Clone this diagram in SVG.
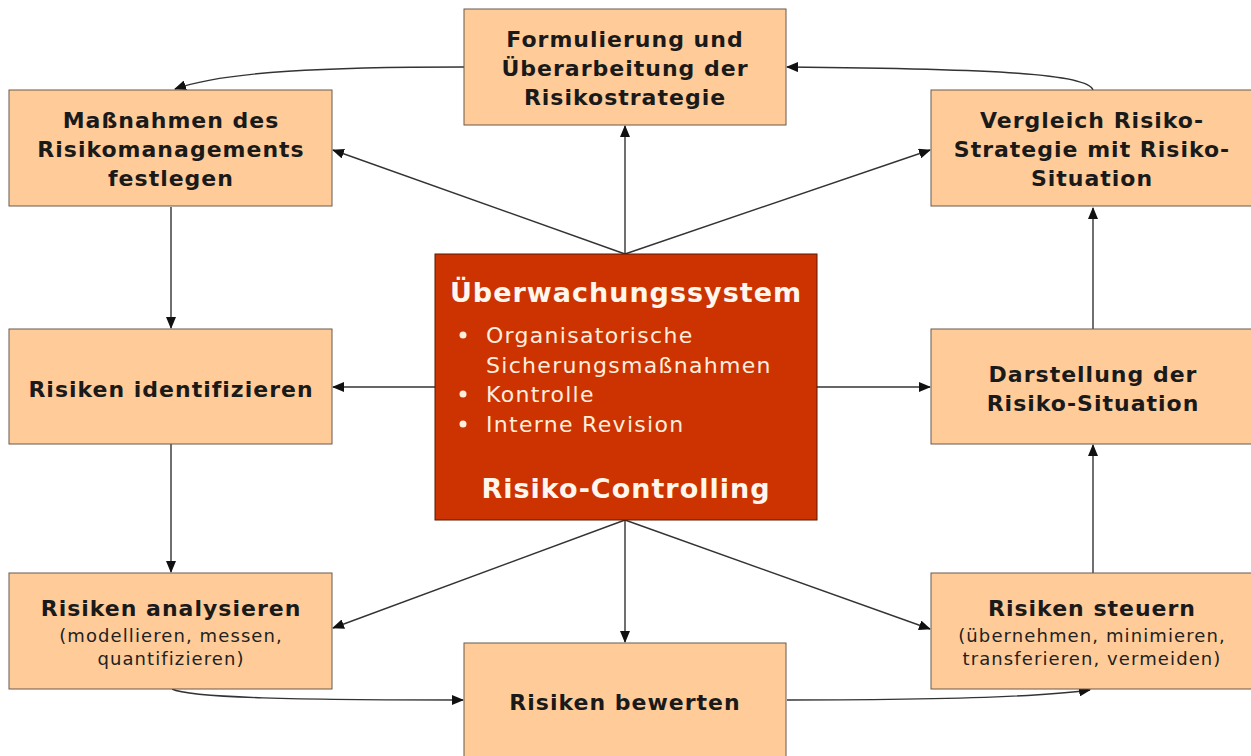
<svg xmlns="http://www.w3.org/2000/svg" width="1251" height="756" viewBox="0 0 1251 756">
  <style>
    .box { fill: #FFCC99; stroke: #6b5a4a; stroke-width: 1; }
    .core { fill: #CC3300; stroke: #5a1800; stroke-width: 1; }
    .t { font-family: "DejaVu Sans", Verdana, sans-serif; font-weight: bold; font-size: 22px; letter-spacing: 1px; fill: #1a1a1a; text-anchor: middle; }
    .s { font-family: "DejaVu Sans", Verdana, sans-serif; font-size: 18px; letter-spacing: 1.1px; fill: #222; text-anchor: middle; }
    .ch { font-family: "DejaVu Sans", Verdana, sans-serif; font-weight: bold; font-size: 27px; letter-spacing: 1px; fill: #FFF6EE; text-anchor: middle; }
    .cl { font-family: "DejaVu Sans", Verdana, sans-serif; font-size: 22px; letter-spacing: 1.3px; fill: #FFEEDD; }
    .edge { fill: none; stroke: #333; stroke-width: 1.4; marker-end: url(#arrow); }
  </style>
  <defs>
    <marker id="arrow" markerUnits="userSpaceOnUse" markerWidth="12" markerHeight="10" refX="11" refY="5" orient="auto">
      <path d="M0,0 L12,5 L0,10 z" fill="#111"/>
    </marker>
  </defs>
  <rect width="1251" height="756" fill="#FFFFFF"/>

  <!-- connectors -->
  <g id="connectors">
    <!-- from the monitoring system outwards -->
    <path class="edge" d="M625,254 L625,126"/>
    <path class="edge" d="M625,254 L333,150"/>
    <path class="edge" d="M625,254 L930,150"/>
    <path class="edge" d="M435,387 L333,387"/>
    <path class="edge" d="M817,387 L930,387"/>
    <path class="edge" d="M625,520 L333,628"/>
    <path class="edge" d="M625,520 L930,629"/>
    <path class="edge" d="M625,520 L625,642"/>
    <!-- process cycle -->
    <path class="edge" d="M171,207 L171,328"/>
    <path class="edge" d="M171,444 L171,572"/>
    <path class="edge" d="M172,689 C190,698 300,700 463,700"/>
    <path class="edge" d="M787,700 C950,700 1040,697 1090,690"/>
    <path class="edge" d="M1093,573 L1093,445"/>
    <path class="edge" d="M1093,329 L1093,208"/>
    <path class="edge" d="M1093,90 C1088,74 1000,69 787,67"/>
    <path class="edge" d="M464,67 C330,67 225,71 175,89"/>
  </g>

  <g id="strategie">
    <rect class="box" x="464" y="9" width="322" height="116"/>
    <text class="t" x="625" y="47">Formulierung und</text>
    <text class="t" x="625" y="76">Überarbeitung der</text>
    <text class="t" x="625" y="105">Risikostrategie</text>
  </g>

  <g id="massnahmen">
    <rect class="box" x="9" y="90" width="323" height="116"/>
    <text class="t" x="171" y="128">Maßnahmen des</text>
    <text class="t" x="171" y="157">Risikomanagements</text>
    <text class="t" x="171" y="186">festlegen</text>
  </g>

  <g id="vergleich">
    <rect class="box" x="931" y="90" width="330" height="116"/>
    <text class="t" x="1092" y="128">Vergleich Risiko-</text>
    <text class="t" x="1092" y="157">Strategie mit Risiko-</text>
    <text class="t" x="1092" y="186">Situation</text>
  </g>

  <g id="identifizieren">
    <rect class="box" x="9" y="329" width="323" height="115"/>
    <text class="t" x="171" y="397">Risiken identifizieren</text>
  </g>

  <g id="darstellung">
    <rect class="box" x="931" y="329" width="330" height="115"/>
    <text class="t" x="1093" y="382">Darstellung der</text>
    <text class="t" x="1093" y="411">Risiko-Situation</text>
  </g>

  <g id="analysieren">
    <rect class="box" x="9" y="573" width="323" height="116"/>
    <text class="t" x="171" y="616">Risiken analysieren</text>
    <text class="s" x="171" y="642">(modellieren, messen,</text>
    <text class="s" x="171" y="665">quantifizieren)</text>
  </g>

  <g id="steuern">
    <rect class="box" x="931" y="573" width="330" height="116"/>
    <text class="t" x="1092" y="616">Risiken steuern</text>
    <text class="s" x="1092" y="642">(übernehmen, minimieren,</text>
    <text class="s" x="1092" y="665">transferieren, vermeiden)</text>
  </g>

  <g id="bewerten">
    <rect class="box" x="464" y="643" width="322" height="130"/>
    <text class="t" x="625" y="710">Risiken bewerten</text>
  </g>

  <g id="ueberwachung">
    <rect class="core" x="435" y="254" width="382" height="266"/>
    <text class="ch" x="626" y="302">Überwachungssystem</text>
    <circle cx="463" cy="335" r="3.5" fill="#FFEEDD"/>
    <text class="cl" x="486" y="343">Organisatorische</text>
    <text class="cl" x="486" y="373">Sicherungsmaßnahmen</text>
    <circle cx="463" cy="394" r="3.5" fill="#FFEEDD"/>
    <text class="cl" x="486" y="402">Kontrolle</text>
    <circle cx="463" cy="424" r="3.5" fill="#FFEEDD"/>
    <text class="cl" x="486" y="432">Interne Revision</text>
    <text class="ch" x="626" y="498">Risiko-Controlling</text>
  </g>
</svg>
